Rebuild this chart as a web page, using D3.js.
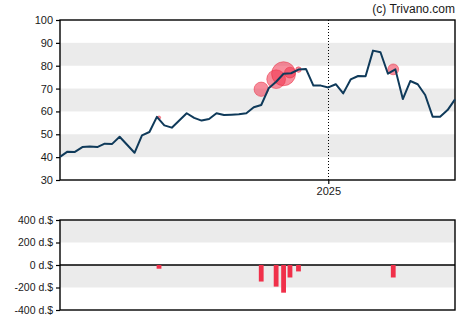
<!DOCTYPE html>
<html>
<head>
<meta charset="utf-8">
<script src="https://cdn.jsdelivr.net/npm/d3@7"></script>
<style>
  html, body { margin: 0; padding: 0; background: #fff; }
  svg { display: block; font-family: "Liberation Sans", Arial, sans-serif; }
</style>
</head>
<body>
<svg id="chart" width="470" height="325"></svg>
<script>
// Weekly closing prices (USD), first week starting 2024-04-24
const startDate = "2024-04-24";
const closes = [
  40.1, 42.4, 42.3, 44.4, 44.7, 44.4, 45.9, 45.8, 48.9, 45.4,
  41.9, 49.5, 51.0, 57.6, 53.9, 52.9, 56.0, 59.2, 57.2, 56.0,
  56.7, 59.2, 58.4, 58.6, 58.8, 59.2, 61.8, 62.8, 70.1, 73.0,
  76.5, 76.7, 78.3, 78.6, 71.3, 71.3, 70.5, 71.9, 67.9, 74.0,
  75.5, 75.4, 86.6, 85.9, 76.5, 78.4, 65.4, 73.3, 71.9, 67.2,
  57.7, 57.7, 60.6, 65.3
];

// Insider transactions: date, trade price, value in thousand dollars (sales negative)
const tradeDates  = ["2024-07-26", "2024-10-30", "2024-11-13", "2024-11-20", "2024-11-26", "2024-12-04", "2025-03-03"];
const tradePrices = [57.3, 69.7, 74.1, 76.5, 77.0, 78.3, 78.4];
const tradeValues = [-33, -147, -192, -246, -111, -57, -111];

const priceTicks  = [30, 40, 50, 60, 70, 80, 90, 100];
const priceBands  = [[80, 90], [60, 70], [40, 50]];
const volumeTicks = [400, 200, 0, -200, -400];
const volumeBands = [[200, 400], [-200, 0]];
const yearMarks   = ["2025-01-01"];
const yearLabels  = ["2025"];

const parse = d3.utcParse("%Y-%m-%d");
const t0 = parse(startDate);
const prices = closes.map((v, i) => ({ date: d3.utcDay.offset(t0, i * 7), value: v }));
const trades = tradeDates.map((d, i) => ({ date: parse(d), price: tradePrices[i], value: tradeValues[i] }));

const svg = d3.select("#chart");
const left = 60, right = 455;
const top1 = 20, bottom1 = 180;
const top2 = 220, bottom2 = 310;

const x = d3.scaleUtc()
  .domain([prices[0].date, prices[prices.length - 1].date])
  .range([left, right]);
const y = d3.scaleLinear().domain([30, 100]).range([bottom1, top1]);
const yv = d3.scaleLinear().domain([-400, 400]).range([bottom2, top2]);
const r = d3.scaleLinear().domain([0, 250]).range([0, 12.2]);

const bandColor = "#ebebeb";
const textColor = "#1a1a1a";

// Background bands
svg.append("g").selectAll("rect").data(priceBands).join("rect")
  .attr("x", left).attr("width", right - left)
  .attr("y", d => y(d[1])).attr("height", d => y(d[0]) - y(d[1]))
  .attr("fill", bandColor);
svg.append("g").selectAll("rect").data(volumeBands).join("rect")
  .attr("x", left).attr("width", right - left)
  .attr("y", d => yv(d[1])).attr("height", d => yv(d[0]) - yv(d[1]))
  .attr("fill", bandColor);

// Year separator
svg.append("g").selectAll("line").data(yearMarks.map(parse)).join("line")
  .attr("x1", d => Math.round(x(d)) + 0.5).attr("x2", d => Math.round(x(d)) + 0.5)
  .attr("y1", top1).attr("y2", bottom1)
  .attr("stroke", "#000").attr("stroke-width", 1).attr("stroke-dasharray", "1,2");

// Price axes
const yAxis = d3.axisLeft(y).tickValues(priceTicks).tickSize(4).tickPadding(3).tickFormat(d3.format("d"));
const gy = svg.append("g").attr("transform", `translate(${left},0)`).call(yAxis);
const xAxis = d3.axisBottom(x).tickValues(yearMarks.map(parse)).tickSize(4).tickPadding(3)
  .tickFormat((d, i) => yearLabels[i]);
const gx = svg.append("g").attr("transform", `translate(0,${bottom1})`).call(xAxis);

// Volume axis
const yvAxis = d3.axisLeft(yv).tickValues(volumeTicks).tickSize(4).tickPadding(3)
  .tickFormat(d => d + " d.$");
const gyv = svg.append("g").attr("transform", `translate(${left},0)`).call(yvAxis);

[gy, gx, gyv].forEach(g => {
  g.select(".domain").remove();
  g.selectAll("line").attr("stroke", "#000").attr("stroke-width", 1.2);
  g.selectAll("text").attr("fill", textColor).style("font-size", "11px")
    .style("font-family", "'Liberation Sans', Arial, sans-serif");
});
gyv.selectAll("text").style("font-size", "10.5px");

// Frames
svg.append("rect").attr("x", left).attr("y", top1).attr("width", right - left).attr("height", bottom1 - top1)
  .attr("fill", "none").attr("stroke", "#000").attr("stroke-width", 1.4);
svg.append("rect").attr("x", left).attr("y", top2).attr("width", right - left).attr("height", bottom2 - top2)
  .attr("fill", "none").attr("stroke", "#000").attr("stroke-width", 1.4);
svg.append("line").attr("x1", left).attr("x2", right).attr("y1", yv(0)).attr("y2", yv(0))
  .attr("stroke", "#000").attr("stroke-width", 1.4);

// Insider trade bars
const barW = 4.8;
svg.append("g").selectAll("rect").data(trades).join("rect")
  .attr("x", d => x(d.date) - barW / 2).attr("width", barW)
  .attr("y", d => Math.min(yv(0), yv(d.value)))
  .attr("height", d => Math.abs(yv(d.value) - yv(0)))
  .attr("fill", "#f0304a");

// Insider trade bubbles
svg.append("g").selectAll("circle").data(trades).join("circle")
  .attr("cx", d => x(d.date)).attr("cy", d => y(d.price))
  .attr("r", d => r(Math.abs(d.value)))
  .attr("fill", "rgba(240,48,74,0.55)")
  .attr("stroke", "rgba(230,40,60,0.6)").attr("stroke-width", 0.8);

// Price line
const line = d3.line().x(d => x(d.date)).y(d => y(d.value)).curve(d3.curveLinear);
svg.append("path").datum(prices)
  .attr("d", line).attr("fill", "none")
  .attr("stroke", "#0f3a5a").attr("stroke-width", 2).attr("stroke-linejoin", "round");

// Copyright
svg.append("text").attr("x", right).attr("y", 13).attr("text-anchor", "end")
  .attr("fill", textColor).style("font-size", "12px").text("(c) Trivano.com");
</script>
</body>
</html>
